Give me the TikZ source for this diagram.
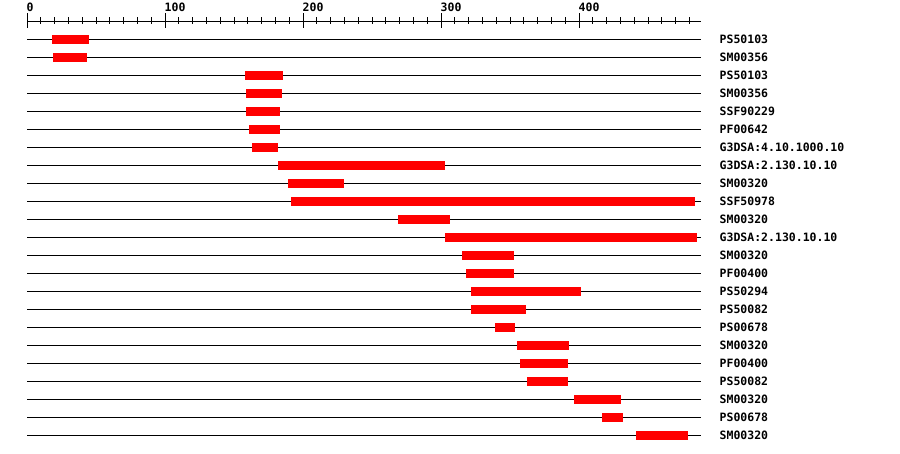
\documentclass[tikz,border=0pt]{standalone}
\usepackage{fontspec}
\newfontfamily\monob[BoldFont={DejaVu Sans Mono Bold}]{DejaVu Sans Mono}
\definecolor{barred}{HTML}{FF0000}
\tikzset{
  rowline/.style={draw=black, line width=1pt},
  barbox/.style={fill=barred, draw=none},
  lbl/.style={anchor=west, inner sep=0pt, font=\monob\bfseries\fontsize{11.5}{12}\selectfont},
  ticklbl/.style={anchor=base west, inner sep=0pt, font=\monob\bfseries\fontsize{11.5}{12}\selectfont},
}
\begin{document}
\begin{tikzpicture}[x=1pt,y=-1pt]
\fill[white] (0,0) rectangle (900,454);
\useasboundingbox (0,0) rectangle (900,454);
% axis
\draw[rowline] (27,21.5) -- (701,21.5);
\foreach \k in {0,...,48} {
  \pgfmathsetmacro{\tx}{27+1.38*10*\k}
  \draw[line width=1pt] (\tx,17.5) -- (\tx,24.5);
}
\foreach \v/\tx in {0/27,100/165,200/303,300/441,400/579} {
  \draw[line width=1pt] (\tx,13.5) -- (\tx,28.5);
  \node[ticklbl] (t\v) at (\tx-0.5,12) {\v};
}
% rows
\foreach \i/\a/\b/\t in {
 1/52/89/PS50103,
 2/53/87/SM00356,
 3/245/283/PS50103,
 4/246/282/SM00356,
 5/246/280/SSF90229,
 6/249/280/PF00642,
 7/252/278/G3DSA:4.10.1000.10,
 8/278/445/G3DSA:2.130.10.10,
 9/288/344/SM00320,
 10/291/695/SSF50978,
 11/398/450/SM00320,
 12/445/697/G3DSA:2.130.10.10,
 13/462/514/SM00320,
 14/466/514/PF00400,
 15/471/581/PS50294,
 16/471/526/PS50082,
 17/495/515/PS00678,
 18/517/569/SM00320,
 19/520/568/PF00400,
 20/527/568/PS50082,
 21/574/621/SM00320,
 22/602/623/PS00678,
 23/636/688/SM00320} {
  \pgfmathsetmacro{\ry}{39.5+18*(\i-1)}
  \draw[rowline] (27,\ry) -- (701,\ry);
  \fill[barbox] (\a,\ry-4.5) rectangle (\b,\ry+4.5);
  \node[lbl] (r\i) at (719.5,\ry) {\t};
}
\end{tikzpicture}
\end{document}
